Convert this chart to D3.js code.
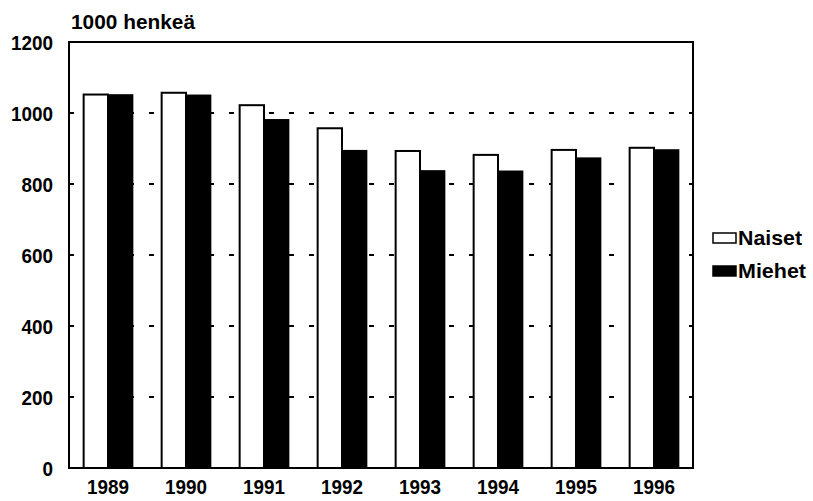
<!DOCTYPE html>
<html><head><meta charset="utf-8">
<script src="https://cdn.jsdelivr.net/npm/d3@7"></script>
<style>
body{margin:0;background:#fff;}
text{font-family:"Liberation Sans",Arial,sans-serif;font-weight:bold;fill:#000;}
</style></head>
<body><svg id="c" width="813" height="501"></svg>
<script>
const years = ["1989","1990","1991","1992","1993","1994","1995","1996"];
const naiset = [1052,1057,1022,957,893,882,896,902];
const miehet = [1053,1052,983,896,839,838,875,898];
const seriesNames = ["Naiset","Miehet"];
const yTicks = [0,200,400,600,800,1000,1200];
const unitLabel = "1000 henkeä";

const svg = d3.select("#c");
const L=69, R=693, T=42, B=468;
const x = d3.scaleBand().domain(years).range([L,R]).paddingInner(0.35).paddingOuter(0.175);
const xs = d3.scaleBand().domain(seriesNames).range([0,x.bandwidth()]).padding(0);
const y = d3.scaleLinear().domain([0,1200]).range([B,T]);

// gridlines
svg.append("g").selectAll("line").data(yTicks.filter(d=>d>0&&d<1200)).join("line")
  .attr("x1",L).attr("x2",R).attr("y1",d=>y(d)).attr("y2",d=>y(d))
  .attr("stroke","#000").attr("stroke-width",2).attr("stroke-dasharray","5,15");

const data = years.map((yr,i)=>({yr, vals:[{s:"Naiset",v:naiset[i]},{s:"Miehet",v:miehet[i]}]}));
const g = svg.append("g").selectAll("g").data(data).join("g")
  .attr("transform",d=>`translate(${x(d.yr)},0)`);
g.selectAll("rect").data(d=>d.vals).join("rect")
  .attr("x",d=>xs(d.s)+(d.s==="Naiset"?1:0))
  .attr("width",d=>xs.bandwidth()-(d.s==="Naiset"?1:0))
  .attr("y",d=>y(d.v)).attr("height",d=>B-y(d.v))
  .attr("fill",d=>d.s==="Naiset"?"#fff":"#000")
  .attr("stroke","#000").attr("stroke-width",d=>d.s==="Naiset"?2:0);

// frame
svg.append("rect").attr("x",L).attr("y",T).attr("width",R-L).attr("height",B-T)
  .attr("fill","none").attr("stroke","#000").attr("stroke-width",2);

// y axis labels
const ya = svg.append("g").attr("transform",`translate(${L},0)`)
  .call(d3.axisLeft(y).tickValues(yTicks).tickFormat(d3.format("d")).tickSize(0).tickPadding(16));
ya.select(".domain").remove();
ya.attr("font-family",null).attr("font-size",null);
ya.selectAll("text").attr("font-size",21).attr("dy","0.35em")
  .each(function(d){ const s=String(d); d3.select(this).attr("textLength", s.length*10.5).attr("lengthAdjust","spacingAndGlyphs"); });

// x axis labels
const xa = svg.append("g").attr("transform",`translate(0,${B})`)
  .call(d3.axisBottom(x).tickSize(0).tickPadding(12));
xa.select(".domain").remove();
xa.attr("font-family",null).attr("font-size",null);
xa.selectAll("text").attr("font-size",20).attr("textLength",42).attr("lengthAdjust","spacingAndGlyphs");

svg.append("text").attr("x",71).attr("y",29).attr("font-size",20)
  .attr("textLength",124).attr("lengthAdjust","spacingAndGlyphs").text(unitLabel);

// legend
const lg = svg.append("g").selectAll("g").data(seriesNames).join("g")
  .attr("transform",(d,i)=>`translate(713,${238+i*33})`);
lg.append("rect").attr("y",-5).attr("width",23).attr("height",10)
  .attr("fill",d=>d==="Naiset"?"#fff":"#000").attr("stroke","#000").attr("stroke-width",1.5);
lg.append("text").attr("x",25).attr("y",7).attr("font-size",21)
  .attr("textLength",d=>d==="Naiset"?64:68).attr("lengthAdjust","spacingAndGlyphs").text(d=>d);
</script></body></html>
